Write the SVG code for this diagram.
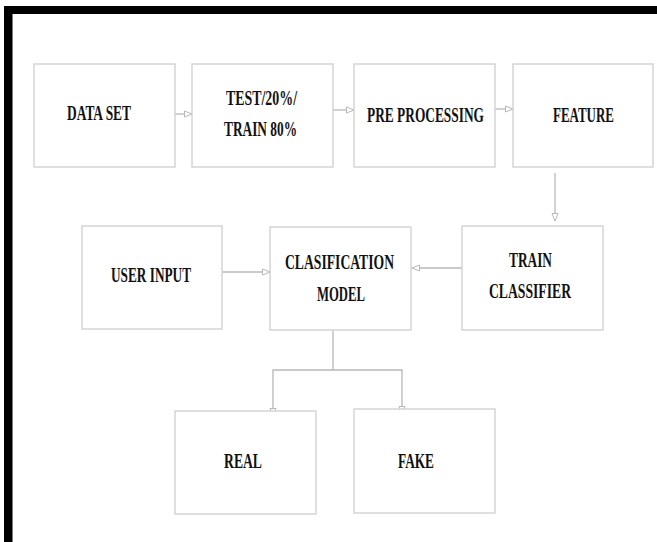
<svg xmlns="http://www.w3.org/2000/svg" width="657" height="542" viewBox="0 0 657 542">
<style>
.box{fill:#fff;stroke:#d2d2d2;stroke-width:1.4}
.lbl{font-family:"Liberation Serif","Times New Roman",serif;font-weight:bold;font-size:20px;fill:#111}
.con{fill:none;stroke:#b8b8b8;stroke-width:1.3}
</style>
<defs>
<marker id="ah" markerWidth="10" markerHeight="10" refX="8.5" refY="4.5" orient="auto" markerUnits="userSpaceOnUse">
<path d="M1,1.5 L8.5,4.5 L1,7.5 Z" fill="#fff" stroke="#b8b8b8" stroke-width="1"/>
</marker>
</defs>
<rect width="657" height="542" fill="#fff"/>
<g id="frame">
<rect x="4" y="6" width="653" height="8" fill="#000"/>
<rect x="4" y="6" width="8.5" height="536" fill="#000"/>
</g>
<g id="connectors">
<line class="con" x1="175" y1="114" x2="192" y2="114" marker-end="url(#ah)"/>
<line class="con" x1="333" y1="110" x2="354" y2="110" marker-end="url(#ah)"/>
<line class="con" x1="495" y1="109" x2="513" y2="109" marker-end="url(#ah)"/>
<line class="con" x1="555" y1="173" x2="555" y2="221" marker-end="url(#ah)"/>
<line class="con" x1="462" y1="268" x2="412" y2="268" marker-end="url(#ah)"/>
<line class="con" x1="222" y1="272" x2="270" y2="272" marker-end="url(#ah)"/>
<path class="con" d="M333,331 V370 H273 V416" marker-end="url(#ah)"/>
<path class="con" d="M333,370 H402 V414" marker-end="url(#ah)"/>
</g>
<g id="data-set">
<rect class="box" x="34" y="64" width="141" height="103"/>
<text class="lbl" x="67" y="120" textLength="64" lengthAdjust="spacingAndGlyphs">DATA SET</text>
</g>
<g id="test-train">
<rect class="box" x="192" y="64" width="141" height="103"/>
<text class="lbl" x="226" y="105" textLength="71" lengthAdjust="spacingAndGlyphs">TEST/20%/</text>
<text class="lbl" x="224" y="136" textLength="73" lengthAdjust="spacingAndGlyphs">TRAIN 80%</text>
</g>
<g id="pre-processing">
<rect class="box" x="354" y="64" width="141" height="103"/>
<text class="lbl" x="367" y="122" textLength="117" lengthAdjust="spacingAndGlyphs">PRE PROCESSING</text>
</g>
<g id="feature">
<rect class="box" x="513" y="64" width="140" height="103"/>
<text class="lbl" x="553" y="122" textLength="61" lengthAdjust="spacingAndGlyphs">FEATURE</text>
</g>
<g id="user-input">
<rect class="box" x="82" y="226" width="140" height="103"/>
<text class="lbl" x="111" y="282" textLength="80" lengthAdjust="spacingAndGlyphs">USER INPUT</text>
</g>
<g id="classification-model">
<rect class="box" x="270" y="227" width="141" height="103"/>
<text class="lbl" x="285" y="269" textLength="109" lengthAdjust="spacingAndGlyphs">CLASIFICATION</text>
<text class="lbl" x="317" y="301" textLength="48" lengthAdjust="spacingAndGlyphs">MODEL</text>
</g>
<g id="train-classifier">
<rect class="box" x="462" y="226" width="141" height="104"/>
<text class="lbl" x="509" y="267" textLength="43" lengthAdjust="spacingAndGlyphs">TRAIN</text>
<text class="lbl" x="489" y="298" textLength="82" lengthAdjust="spacingAndGlyphs">CLASSIFIER</text>
</g>
<g id="real">
<rect class="box" x="175" y="411" width="141" height="103"/>
<text class="lbl" x="224" y="468" textLength="38" lengthAdjust="spacingAndGlyphs">REAL</text>
</g>
<g id="fake">
<rect class="box" x="354" y="409" width="141" height="104"/>
<text class="lbl" x="398" y="468" textLength="36" lengthAdjust="spacingAndGlyphs">FAKE</text>
</g>
</svg>
